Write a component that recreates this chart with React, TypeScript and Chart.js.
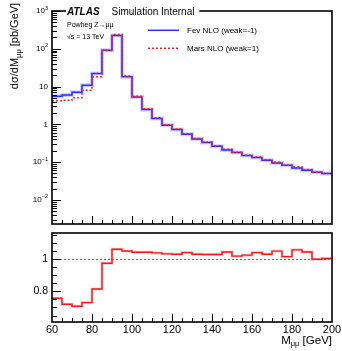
import React, { useEffect, useRef } from "react";
import { Chart, registerables } from "chart.js";
Chart.register(...registerables);

// ---------- data ----------
const binEdges = [60, 65, 70, 75, 80, 85, 90, 95, 100, 105, 110, 115, 120, 125, 130, 135, 140, 145, 150, 155, 160, 165, 170, 175, 180, 185, 190, 195, 200];
const fevNLO = [5.56, 6.0, 7.1, 10.9, 22.2, 92, 225, 18.1, 5.3, 2.47, 1.43, 0.95, 0.735, 0.546, 0.41, 0.33, 0.263, 0.209, 0.179, 0.149, 0.132, 0.112, 0.095, 0.082, 0.070, 0.061, 0.054, 0.0496];
const marsNLO = [4.21, 4.32, 5.02, 7.96, 18.07, 89.5, 238.5, 18.99, 5.52, 2.57, 1.483, 0.979, 0.756, 0.567, 0.422, 0.339, 0.270, 0.218, 0.182, 0.152, 0.137, 0.115, 0.0996, 0.0831, 0.0739, 0.0636, 0.0539, 0.0497];
const ratioBA = [0.757, 0.72, 0.707, 0.73, 0.814, 0.973, 1.06, 1.049, 1.041, 1.041, 1.037, 1.031, 1.029, 1.039, 1.029, 1.027, 1.027, 1.043, 1.017, 1.023, 1.039, 1.029, 1.048, 1.014, 1.056, 1.043, 0.998, 1.002];
const topYTickExps = [-2, -1, 0, 1, 2, 3];
const ratioYTicks = [0.8, 1];
const xTickLabels = [60, 80, 100, 120, 140, 160, 180, 200];
const legendLabels = ["Fev NLO (weak=-1)", "Mars NLO (weak=1)"];

const FONT = '"Liberation Sans", Arial, Helvetica, sans-serif';
const X_MIN = 60, X_MAX = 200;

function stepPoints(vals: number[]) {
  return binEdges.map((e, i) => ({ x: e, y: vals[Math.min(i, vals.length - 1)] }));
}

function drawFrame(ctx: CanvasRenderingContext2D, a: any) {
  ctx.save();
  ctx.strokeStyle = "#000";
  ctx.lineWidth = 1.6;
  ctx.setLineDash([]);
  ctx.strokeRect(a.left, a.top, a.right - a.left, a.bottom - a.top);
  ctx.restore();
}

function drawXTicks(ctx: CanvasRenderingContext2D, chart: any) {
  const xs = chart.scales.x;
  const a = chart.chartArea;
  ctx.save();
  ctx.strokeStyle = "#000";
  ctx.lineWidth = 1;
  for (let g = X_MIN + 5; g < X_MAX; g += 5) {
    const px = Math.round(xs.getPixelForValue(g)) + 0.5;
    const len = g % 20 === 0 ? 8 : 4;
    ctx.beginPath();
    ctx.moveTo(px, a.bottom);
    ctx.lineTo(px, a.bottom - len);
    ctx.stroke();
  }
  ctx.restore();
}

const topPlugin = {
  id: "topDecor",
  afterDraw(chart: any) {
    const ctx: CanvasRenderingContext2D = chart.ctx;
    const a = chart.chartArea;
    const ys = chart.scales.y;
    // y ticks (log)
    ctx.save();
    ctx.strokeStyle = "#000";
    ctx.lineWidth = 1;
    for (let d = -3; d <= 3; d++) {
      for (let m = 1; m <= 9; m++) {
        const v = m * Math.pow(10, d);
        if (v < ys.min || v > ys.max) continue;
        const py = Math.round(ys.getPixelForValue(v)) + 0.5;
        const len = m === 1 ? 9 : 5;
        ctx.beginPath();
        ctx.moveTo(a.left, py);
        ctx.lineTo(a.left + len, py);
        ctx.stroke();
      }
    }
    ctx.restore();
    drawXTicks(ctx, chart);

    // y tick labels
    ctx.save();
    ctx.fillStyle = "#000";
    ctx.textBaseline = "middle";
    const rx = a.left - 4;
    topYTickExps.forEach((e) => {
      const py = ys.getPixelForValue(Math.pow(10, e));
      ctx.textAlign = "right";
      if (e === 0) {
        ctx.font = `8px ${FONT}`;
        ctx.fillText("1", rx, py);
      } else if (e === 1) {
        ctx.font = `8px ${FONT}`;
        ctx.fillText("10", rx, py);
      } else {
        const exp = e < 0 ? "\u2212" + Math.abs(e) : String(e);
        ctx.font = `5.5px ${FONT}`;
        const w = ctx.measureText(exp).width;
        ctx.fillText(exp, rx, py - 3);
        ctx.font = `8px ${FONT}`;
        ctx.fillText("10", rx - w, py);
      }
    });
    ctx.restore();

    drawFrame(ctx, a);

    // ATLAS label (white background over frame)
    ctx.save();
    ctx.font = `bold italic 10px ${FONT}`;
    const atlasW = ctx.measureText("ATLAS").width;
    ctx.font = `10px ${FONT}`;
    const simW = ctx.measureText("Simulation Internal").width;
    ctx.fillStyle = "#fff";
    ctx.fillRect(a.left + 14, a.top - 5, atlasW + simW + 18, 9);
    ctx.fillStyle = "#000";
    ctx.textBaseline = "alphabetic";
    ctx.textAlign = "left";
    ctx.font = `bold italic 10px ${FONT}`;
    ctx.fillText("ATLAS", a.left + 15, a.top + 3.5);
    ctx.font = `10px ${FONT}`;
    ctx.fillText("Simulation Internal", a.left + 15 + atlasW + 12, a.top + 3.5);

    ctx.font = `7px ${FONT}`;
    ctx.textBaseline = "middle";
    ctx.fillText("Powheg Z\u2192\u03bc\u03bc", a.left + 15, a.top + 14);
    ctx.fillText("\u221as = 13 TeV", a.left + 15, a.top + 26.5);

    // legend
    const ds = chart.data.datasets;
    const legendY = [a.top + 19.3, a.top + 37.3];
    [ds[1], ds[2]].forEach((d: any, i: number) => {
      ctx.save();
      ctx.strokeStyle = d.borderColor;
      ctx.lineWidth = d.borderWidth;
      ctx.setLineDash(d.borderDash || []);
      ctx.beginPath();
      ctx.moveTo(148, legendY[i]);
      ctx.lineTo(179, legendY[i]);
      ctx.stroke();
      ctx.restore();
      ctx.fillStyle = "#000";
      ctx.font = `8px ${FONT}`;
      ctx.textAlign = "left";
      ctx.fillText(legendLabels[i], 187, legendY[i]);
    });

    // y title
    ctx.save();
    ctx.translate(15, 46);
    ctx.rotate(-Math.PI / 2);
    ctx.textBaseline = "middle";
    ctx.textAlign = "left";
    const p1 = "d\u03c3/dM";
    const p2 = "\u03bc\u03bc";
    const p3 = " [pb/GeV]";
    ctx.font = `11px ${FONT}`;
    const w1 = ctx.measureText(p1).width;
    const w3 = ctx.measureText(p3).width;
    ctx.font = `7.5px ${FONT}`;
    const w2 = ctx.measureText(p2).width;
    const total = w1 + w2 + w3;
    let x0 = -total / 2;
    ctx.font = `11px ${FONT}`;
    ctx.fillText(p1, x0, 0);
    x0 += w1;
    ctx.font = `7.5px ${FONT}`;
    ctx.fillText(p2, x0, 3.5);
    x0 += w2;
    ctx.font = `11px ${FONT}`;
    ctx.fillText(p3, x0, 0);
    ctx.restore();
    ctx.restore();
  },
};

const ratioPlugin = {
  id: "ratioDecor",
  beforeDatasetsDraw(chart: any) {
    const ctx: CanvasRenderingContext2D = chart.ctx;
    const a = chart.chartArea;
    const ys = chart.scales.y;
    const py = Math.round(ys.getPixelForValue(1)) + 0.5;
    ctx.save();
    ctx.strokeStyle = "#666";
    ctx.lineWidth = 1;
    ctx.setLineDash([2, 2]);
    ctx.beginPath();
    ctx.moveTo(a.left, py);
    ctx.lineTo(a.right, py);
    ctx.stroke();
    ctx.restore();
  },
  afterDraw(chart: any) {
    const ctx: CanvasRenderingContext2D = chart.ctx;
    const a = chart.chartArea;
    const ys = chart.scales.y;
    const xs = chart.scales.x;
    ctx.save();
    ctx.strokeStyle = "#000";
    ctx.lineWidth = 1;
    for (let k = 12; k <= 23; k++) {
      const v = k * 0.05;
      if (v < ys.min || v > ys.max) continue;
      const py = Math.round(ys.getPixelForValue(v)) + 0.5;
      const len = k % 4 === 0 ? 9 : 5;
      ctx.beginPath();
      ctx.moveTo(a.left, py);
      ctx.lineTo(a.left + len, py);
      ctx.stroke();
    }
    ctx.restore();
    drawXTicks(ctx, chart);
    drawFrame(ctx, a);

    ctx.save();
    ctx.fillStyle = "#000";
    ctx.font = `10.5px ${FONT}`;
    ctx.textAlign = "right";
    ctx.textBaseline = "middle";
    ratioYTicks.forEach((v) => {
      ctx.fillText(v === 1 ? "1" : String(v), a.left - 4, ys.getPixelForValue(v));
    });
    ctx.font = `11px ${FONT}`;
    ctx.textAlign = "center";
    ctx.textBaseline = "middle";
    xTickLabels.forEach((v) => {
      ctx.fillText(String(v), xs.getPixelForValue(v), a.bottom + 8);
    });
    // x title
    ctx.textAlign = "right";
    const t3 = " [GeV]";
    ctx.font = `11.5px ${FONT}`;
    const w3 = ctx.measureText(t3).width;
    ctx.font = `7.5px ${FONT}`;
    const w2 = ctx.measureText("\u03bc\u03bc").width;
    let xr = a.right;
    ctx.font = `11.5px ${FONT}`;
    ctx.fillText(t3, xr, a.bottom + 19);
    xr -= w3;
    ctx.font = `7.5px ${FONT}`;
    ctx.fillText("\u03bc\u03bc", xr, a.bottom + 22);
    xr -= w2;
    ctx.font = `11.5px ${FONT}`;
    ctx.fillText("M", xr, a.bottom + 19);
    // y title
    ctx.translate(25, 245);
    ctx.rotate(-Math.PI / 2);
    ctx.textAlign = "center";
    ctx.font = `11px ${FONT}`;
    ctx.fillText("B / A", 0, 0);
    ctx.restore();
  },
};

export default function App() {
  const topRef = useRef<HTMLCanvasElement | null>(null);
  const botRef = useRef<HTMLCanvasElement | null>(null);

  useEffect(() => {
    const top = new Chart(topRef.current as HTMLCanvasElement, {
      type: "line",
      data: {
        datasets: [
          {
            data: stepPoints(fevNLO),
            borderColor: "rgba(120,120,255,0.35)",
            borderWidth: 4,
            stepped: true,
            pointRadius: 0,
            fill: false,
            order: 3,
          },
          {
            data: stepPoints(fevNLO),
            borderColor: "rgb(45,45,235)",
            borderWidth: 1.5,
            stepped: true,
            pointRadius: 0,
            fill: false,
            order: 2,
          },
          {
            data: stepPoints(marsNLO),
            borderColor: "rgb(235,35,35)",
            borderWidth: 1.5,
            borderDash: [2, 2],
            stepped: true,
            pointRadius: 0,
            fill: false,
            order: 1,
          },
        ],
      } as any,
      options: {
        responsive: false,
        animation: false,
        events: [],
        layout: { padding: { left: 52, right: 10, top: 11, bottom: 6 } },
        plugins: { legend: { display: false }, tooltip: { enabled: false } },
        scales: {
          x: { type: "linear", min: X_MIN, max: X_MAX, display: false },
          y: { type: "logarithmic", min: 2.3e-3, max: 1000, display: false },
        },
      } as any,
      plugins: [topPlugin],
    });

    const bot = new Chart(botRef.current as HTMLCanvasElement, {
      type: "line",
      data: {
        datasets: [
          {
            data: stepPoints(ratioBA),
            borderColor: "rgba(240,120,120,0.4)",
            borderWidth: 3,
            stepped: true,
            pointRadius: 0,
            fill: false,
            order: 2,
          },
          {
            data: stepPoints(ratioBA),
            borderColor: "rgb(230,30,30)",
            borderWidth: 1.4,
            stepped: true,
            pointRadius: 0,
            fill: false,
            order: 1,
          },
        ],
      } as any,
      options: {
        responsive: false,
        animation: false,
        events: [],
        layout: { padding: { left: 52, right: 10, top: 5, bottom: 29 } },
        plugins: { legend: { display: false }, tooltip: { enabled: false } },
        scales: {
          x: { type: "linear", min: X_MIN, max: X_MAX, display: false },
          y: { type: "linear", min: 0.61, max: 1.16, display: false },
        },
      } as any,
      plugins: [ratioPlugin],
    });

    return () => {
      top.destroy();
      bot.destroy();
    };
  }, []);

  return (
    <div style={{ position: "fixed", left: 0, top: 0, width: 342, height: 351, background: "#fff" }}>
      <canvas ref={topRef} width={342} height={230} style={{ position: "absolute", left: 0, top: 0, width: 342, height: 230 }} />
      <canvas ref={botRef} width={342} height={123} style={{ position: "absolute", left: 0, top: 228, width: 342, height: 123 }} />
    </div>
  );
}
